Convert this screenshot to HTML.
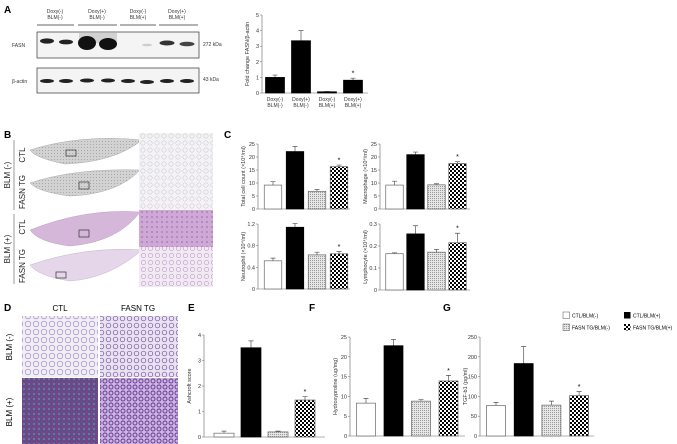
<!DOCTYPE html>
<html><head><meta charset="utf-8">
<style>
body{margin:0;background:#fff;}
svg{display:block;font-family:"Liberation Sans",sans-serif;}
.lbl{font-weight:bold;font-size:10px;}
.t{font-size:5px;fill:#333;}
.ax{font-size:5.5px;fill:#333;}
</style></head>
<body>
<svg id="fig" width="677" height="444" viewBox="0 0 677 444">
<defs>
<pattern id="chk" width="4" height="4" patternUnits="userSpaceOnUse"><rect width="4" height="4" fill="#fff"/><rect width="2" height="2" fill="#000"/><rect x="2" y="2" width="2" height="2" fill="#000"/></pattern>
<pattern id="dot" width="2" height="2" patternUnits="userSpaceOnUse"><rect width="2" height="2" fill="#e6e6e6"/><rect width="1" height="1" fill="#9a9a9a"/></pattern>
<pattern id="lungG" width="3" height="3" patternUnits="userSpaceOnUse"><rect width="3" height="3" fill="#d2d2d2"/><rect width="1" height="1" fill="#a8a8a8"/></pattern>
<pattern id="tis" width="7" height="7" patternUnits="userSpaceOnUse"><rect width="7" height="7" fill="#f3f2f4"/><circle cx="3" cy="3" r="2.2" fill="none" stroke="#c8c0cc" stroke-width="0.5"/></pattern>
<pattern id="tisP" width="5" height="5" patternUnits="userSpaceOnUse"><rect width="5" height="5" fill="#cfa9d5"/><circle cx="2" cy="2" r="1" fill="#b07fbb"/></pattern>
<pattern id="tisL" width="7" height="7" patternUnits="userSpaceOnUse"><rect width="7" height="7" fill="#f2eaf3"/><circle cx="3.5" cy="3.5" r="2.2" fill="none" stroke="#bf9ccb" stroke-width="0.6"/></pattern>
<pattern id="mt1" width="8" height="8" patternUnits="userSpaceOnUse"><rect width="8" height="8" fill="#f1eef5"/><circle cx="4" cy="4" r="2.8" fill="none" stroke="#9a82c2" stroke-width="0.6"/></pattern>
<pattern id="mt2" width="5" height="5" patternUnits="userSpaceOnUse"><rect width="5" height="5" fill="#5c4f8c"/><circle cx="2" cy="2" r="1.2" fill="#8b3f7a"/><circle cx="4" cy="4" r="0.6" fill="#c5b9d8"/></pattern>
<pattern id="mt3" width="7" height="7" patternUnits="userSpaceOnUse"><rect width="7" height="7" fill="#e9e2f0"/><circle cx="3.5" cy="3.5" r="2.3" fill="none" stroke="#7650a5" stroke-width="0.7"/></pattern>
<pattern id="mt4" width="6" height="6" patternUnits="userSpaceOnUse"><rect width="6" height="6" fill="#c8b6dc"/><circle cx="3" cy="3" r="2" fill="none" stroke="#6a2f9a" stroke-width="0.9"/></pattern>
</defs>

<!-- Panel A -->
<text class="lbl" x="4" y="13">A</text>
<g>
<g class="t" text-anchor="middle">
<text x="55" y="13">Doxy(-)</text><text x="55" y="19">BLM(-)</text>
<text x="97" y="13">Doxy(+)</text><text x="97" y="19">BLM(-)</text>
<text x="138" y="13">Doxy(-)</text><text x="138" y="19">BLM(+)</text>
<text x="177" y="13">Doxy(+)</text><text x="177" y="19">BLM(+)</text>
</g>
<g stroke="#333" stroke-width="0.7"><line x1="37" y1="25" x2="74" y2="25"/><line x1="78" y1="25" x2="117" y2="25"/><line x1="120" y1="25" x2="156" y2="25"/><line x1="159" y1="25" x2="198" y2="25"/></g>
<rect x="37" y="32" width="162" height="26" fill="#f4f4f4" stroke="#333" stroke-width="0.7"/>
<rect x="37" y="68" width="162" height="25" fill="#f4f4f4" stroke="#333" stroke-width="0.7"/>
<rect x="79" y="33" width="38" height="10" fill="#bbb" opacity="0.6"/>
<g fill="#222">
<ellipse cx="47" cy="41" rx="7" ry="2.6"/><ellipse cx="66" cy="42" rx="7" ry="2.4"/>
<ellipse cx="87" cy="43" rx="9" ry="7" fill="#111"/><ellipse cx="108" cy="44" rx="9" ry="6" fill="#111"/>
<ellipse cx="147" cy="45" rx="5" ry="1.3" fill="#ccc"/>
<ellipse cx="167" cy="43" rx="7.5" ry="2.5" fill="#333"/><ellipse cx="187" cy="44" rx="7.5" ry="2.3" fill="#444"/>
<ellipse cx="47" cy="81" rx="7" ry="2"/><ellipse cx="66" cy="81" rx="7" ry="2"/><ellipse cx="87" cy="80.5" rx="7" ry="2"/><ellipse cx="108" cy="80.5" rx="7" ry="2"/><ellipse cx="128" cy="81" rx="7" ry="2"/><ellipse cx="147" cy="82" rx="7" ry="2"/><ellipse cx="167" cy="81" rx="7" ry="2"/><ellipse cx="187" cy="81" rx="7" ry="2"/>
</g>
<text class="t" x="12" y="47">FASN</text><text class="t" x="12" y="83">β-actin</text>
<text class="t" x="203" y="46">272 kDa</text><text class="t" x="203" y="81">43 kDa</text>
</g>
<g id="chartA"></g>

<!-- Panel B -->
<text class="lbl" x="4" y="138">B</text>
<g>
<path d="M30,150 Q80,134 142,140 Q115,162 65,164 Q35,158 30,150Z" fill="url(#lungG)" stroke="#aaa" stroke-width="0.5"/>
<path d="M30,183 Q75,168 140,170 Q118,194 70,196 Q38,192 30,183Z" fill="url(#lungG)" stroke="#aaa" stroke-width="0.5"/>
<path d="M30,230 Q85,208 140,212 Q118,242 70,246 Q38,242 30,230Z" fill="#d5b7da" stroke="#c0a0c6" stroke-width="0.5"/>
<path d="M30,265 Q85,246 142,250 Q110,278 70,281 Q38,276 30,265Z" fill="#e6d6e9" stroke="#c8b2cd" stroke-width="0.5"/>
<rect x="66" y="150" width="10" height="6" fill="none" stroke="#333" stroke-width="0.7"/>
<rect x="79" y="182" width="10" height="7" fill="none" stroke="#333" stroke-width="0.7"/>
<rect x="79" y="230" width="10" height="7" fill="none" stroke="#333" stroke-width="0.7"/>
<rect x="56" y="272" width="10" height="6" fill="none" stroke="#333" stroke-width="0.7"/>
<rect x="139" y="133" width="74" height="35" fill="url(#tis)"/>
<rect x="139" y="168" width="74" height="42" fill="url(#tis)"/>
<rect x="139" y="210" width="74" height="37" fill="url(#tisP)"/>
<rect x="139" y="247" width="74" height="40" fill="url(#tisL)"/>
<g stroke="#555" stroke-width="0.6"><line x1="14" y1="140" x2="14" y2="210"/><line x1="14" y1="214" x2="14" y2="284"/></g>
<g font-size="8" fill="#222" text-anchor="middle">
<text transform="translate(10,175) rotate(-90)">BLM (-)</text>
<text transform="translate(10,249) rotate(-90)">BLM (+)</text>
<text transform="translate(25,155) rotate(-90)">CTL</text>
<text transform="translate(25,192) rotate(-90)">FASN TG</text>
<text transform="translate(25,227) rotate(-90)">CTL</text>
<text transform="translate(25,266) rotate(-90)">FASN TG</text>
</g>
</g>

<!-- Panel C -->
<text class="lbl" x="224" y="138">C</text>
<g id="chartC1"></g>
<g id="chartC2"></g>
<g id="chartC3"></g>
<g id="chartC4"></g>

<!-- Panel D -->
<text class="lbl" x="4" y="311">D</text>
<g>
<text x="60" y="311" font-size="8" text-anchor="middle">CTL</text>
<text x="138" y="311" font-size="8" text-anchor="middle">FASN TG</text>
<rect x="22" y="316" width="76" height="61" fill="url(#mt1)"/>
<rect x="100" y="316" width="78" height="61" fill="url(#mt3)"/>
<rect x="22" y="378" width="76" height="66" fill="url(#mt2)"/>
<rect x="100" y="378" width="78" height="66" fill="url(#mt4)"/>
<g font-size="8" text-anchor="middle">
<text transform="translate(12,347) rotate(-90)">BLM (-)</text>
<text transform="translate(12,412) rotate(-90)">BLM (+)</text>
</g>
</g>

<text class="lbl" x="188" y="311">E</text>
<text class="lbl" x="309" y="311">F</text>
<text class="lbl" x="443" y="311">G</text>
<g id="chartE"></g>
<g id="chartF"></g>
<g id="chartG"></g>

<g font-size="5">
<g><rect x="563" y="312" width="6.5" height="6.5" fill="#fff" stroke="#555" stroke-width="0.5"/><text x="572" y="317.5">CTL/BLM(-)</text></g>
<g><rect x="563" y="324" width="6.5" height="6.5" fill="url(#dot)" stroke="#555" stroke-width="0.5"/><text x="572" y="329.5">FASN TG/BLM(-)</text></g>
<g><rect x="624" y="312" width="6.5" height="6.5" fill="#000"/><text x="633" y="317.5">CTL/BLM(+)</text></g>
<g><rect x="624" y="324" width="6.5" height="6.5" fill="url(#chk)"/><text x="633" y="329.5">FASN TG/BLM(+)</text></g>
</g>
</svg>
<script>
// Data
const aCats = ["Doxy(-)|BLM(-)","Doxy(+)|BLM(-)","Doxy(-)|BLM(+)","Doxy(+)|BLM(+)"];
const aVals = [1.0, 3.35, 0.08, 0.82];
const aErr = [0.15, 0.65, 0.02, 0.13];
const aTicks = [0,1,2,3,4,5];
const c1Vals = [9.2, 22.1, 6.8, 16.3];
const c1Err = [1.3, 2.0, 0.7, 0.6];
const c1Ticks = [0,5,10,15,20,25];
const c2Vals = [9.2, 20.9, 9.3, 17.5];
const c2Err = [1.5, 1.0, 0.4, 0.7];
const c2Ticks = [0,5,10,15,20,25];
const c3Vals = [0.52, 1.14, 0.63, 0.65];
const c3Err = [0.05, 0.07, 0.05, 0.04];
const c3Ticks = [0,0.4,0.8,1.2];
const c4Vals = [0.165, 0.255, 0.172, 0.215];
const c4Err = [0.004, 0.037, 0.012, 0.043];
const c4Ticks = [0,0.1,0.2,0.3];
const eVals = [0.15, 3.5, 0.2, 1.45];
const eErr = [0.08, 0.27, 0.03, 0.13];
const eTicks = [0,1,2,3,4];
const fVals = [8.3, 22.8, 8.8, 13.9];
const fErr = [1.2, 1.6, 0.4, 1.4];
const fTicks = [0,5,10,15,20,25];
const gVals = [77, 183, 78, 102];
const gErr = [8, 43, 10, 10];
const gTicks = [0,50,100,150,200,250];
const starA = [false,false,false,true];
const starAll = [false,false,false,true];
const fills = ["#fff","#000","url(#dot)","url(#chk)"];
const fillsA = ["#000","#000","#000","#000"];
const NS = "http://www.w3.org/2000/svg";
function mk(parent, tag, attrs){const e=document.createElementNS(NS,tag);for(const k in attrs)e.setAttribute(k,attrs[k]);parent.appendChild(e);return e;}
function chart(id, o, vals, errs, ticks, stars, cats, fl){
  const g=document.getElementById(id);
  const max=ticks[ticks.length-1];
  const y=v=>o.y0-(v/max)*(o.y0-o.yTop);
  const x=i=>o.x0+o.first+i*o.step;
  const ax=mk(g,"line",{x1:o.x0,y1:y(max),x2:o.x0,y2:o.y0,stroke:"#666","stroke-width":0.6});
  
  
  const bx=mk(g,"line",{x1:o.x0,y1:o.y0,x2:o.xEnd,y2:o.y0,stroke:"#666","stroke-width":0.6});
  
  
  ticks.forEach(t=>{
    mk(g,"line",{x1:o.x0-2,x2:o.x0,y1:y(t),y2:y(t),stroke:"#666","stroke-width":0.5});
    const tx=mk(g,"text",{x:o.x0-3,y:y(t)+2,"text-anchor":"end","class":"ax"});
    tx.textContent=String(t);
    
    
  });
  vals.forEach((v,i)=>{
    const err=mk(g,"path",{d:`M${x(i)},${y(v)}V${y(v+errs[i])}M${x(i)-2.5},${y(v+errs[i])}H${x(i)+2.5}`,stroke:"#555","stroke-width":0.7,fill:"none"});
    
    
    const f=(fl||fills)[i];
    const r=mk(g,"rect",{x:x(i)-o.w/2,y:y(v),width:o.w,height:o.y0-y(v),fill:f,stroke:f=="#000"?"#000":"#666","stroke-width":0.7});
    
    
    if(stars[i]){const s=mk(g,"text",{x:x(i),y:y(v+errs[i])-2.5,"text-anchor":"middle","font-size":"7"});s.textContent="*";
      
      }
    if(cats){cats[i].split("|").forEach((c,k)=>{const t=mk(g,"text",{x:x(i),y:o.y0+8+k*6,"text-anchor":"middle","class":"t"});t.textContent=c;
      
      });}
  });
  const ttl=mk(g,"text",{transform:`translate(${o.x0-13},${(o.y0+y(max))/2}) rotate(-90)`,"text-anchor":"middle","class":"ax"});
  ttl.textContent=o.title;
  
  
}
chart("chartA",{x0:262,y0:93,yTop:15,xEnd:368,first:13,step:26,w:19,title:"Fold change FASN/β-actin"},aVals,aErr,aTicks,starA,aCats,fillsA);
chart("chartC1",{x0:258,y0:209,yTop:144,xEnd:350,first:15,step:22,w:17.5,title:"Total cell count (×10⁴/ml)"},c1Vals,c1Err,c1Ticks,starAll);
chart("chartC2",{x0:380,y0:209,yTop:144,xEnd:470,first:14.5,step:21,w:17.5,title:"Macrophage (×10⁴/ml)"},c2Vals,c2Err,c2Ticks,starAll);
chart("chartC3",{x0:258,y0:289,yTop:224,xEnd:350,first:15,step:22,w:17.5,title:"Neutrophil (×10⁴/ml)"},c3Vals,c3Err,c3Ticks,starAll);
chart("chartC4",{x0:380,y0:290,yTop:224,xEnd:470,first:14.5,step:21,w:17.5,title:"Lymphocyte (×10⁴/ml)"},c4Vals,c4Err,c4Ticks,starAll);
chart("chartE",{x0:204,y0:437,yTop:335,xEnd:325,first:20,step:27,w:20,title:"Ashcroft score"},eVals,eErr,eTicks,starAll);
chart("chartF",{x0:350,y0:436,yTop:337,xEnd:465,first:16,step:27.5,w:19,title:"Hydroxyproline (ug/mg)"},fVals,fErr,fTicks,starAll);
chart("chartG",{x0:480,y0:436,yTop:337,xEnd:594,first:16,step:27.7,w:19,title:"TGF-b1 (pg/ml)"},gVals,gErr,gTicks,starAll);
</script>
</body></html>
